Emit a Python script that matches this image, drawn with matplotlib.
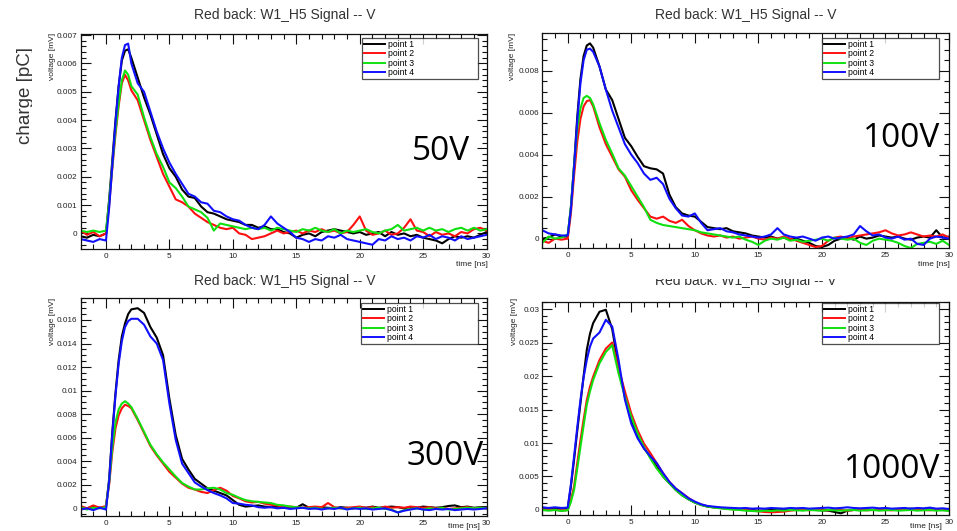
import numpy as np
import matplotlib
matplotlib.use("Agg")
import matplotlib.pyplot as plt
from matplotlib.ticker import MultipleLocator, FuncFormatter
from matplotlib.transforms import Bbox

W, H = 957, 531
SCALE = 1e-3  # values below are in units of 1e-3

# time axis [ns]
T = [-2, -1.5, -1, -0.5, 0, 0.25, 0.5, 0.75, 1, 1.25, 1.5, 1.75, 2,
     2.5, 3, 3.5, 4, 4.5, 5, 5.5, 6, 6.5, 7, 7.5, 8, 8.5, 9, 9.5, 10,
     10.5, 11, 11.5, 12, 12.5, 13, 13.5, 14, 14.5, 15, 15.5, 16, 16.5,
     17, 17.5, 18, 18.5, 19, 19.5, 20, 20.5, 21, 21.5, 22, 22.5, 23,
     23.5, 24, 24.5, 25, 25.5, 26, 26.5, 27, 27.5, 28, 28.5, 29, 29.5, 30]

LABELS = ["point 1", "point 2", "point 3", "point 4"]
COLORS = ["#000000", "#ff1010", "#10e010", "#1010ff"]
TITLE = "Red back: W1_H5 Signal -- V"
VOLTAGES = ["50V", "100V", "300V", "1000V"]

# ---- 50 V ----
v50_p1 = [-0.1, -0.15, -0.05, -0.1, 0.0, 1.2, 2.6, 4.0, 5.2, 6.1, 6.45, 6.5, 6.2,
          5.5, 4.8, 4.2, 3.5, 2.8, 2.3, 2.0, 1.55, 1.3, 1.25, 0.95, 0.75, 0.7, 0.6, 0.5, 0.45,
          0.4, 0.3, 0.3, 0.2, 0.25, 0.15, 0.15, 0.05, 0.0, -0.15, -0.05, 0.0, -0.1,
          0.05, 0.1, 0.15, 0.1, 0.05, 0.0, 0.05, -0.05, 0.0, 0.05, -0.1, 0.05, -0.05,
          0.0, -0.1, -0.05, -0.15, -0.2, -0.25, -0.35, -0.2, -0.1, -0.15, -0.1, -0.15, -0.05, 0.05]
v50_p2 = [0.1, -0.05, 0.05, -0.1, 0.0, 1.0, 2.3, 3.5, 4.5, 5.3, 5.6, 5.4, 5.05,
          4.7, 4.0, 3.3, 2.7, 2.1, 1.65, 1.2, 1.1, 0.95, 0.7, 0.55, 0.4, 0.3, 0.2, 0.15, 0.2,
          0.0, -0.05, -0.2, -0.15, -0.1, 0.0, 0.1, 0.0, 0.05, 0.1, 0.0, 0.1, 0.05,
          0.15, 0.05, 0.1, 0.0, 0.05, 0.3, 0.6, 0.1, -0.05, 0.0, 0.1, -0.05, 0.0,
          0.2, 0.5, 0.1, 0.05, -0.1, 0.05, -0.05, 0.0, -0.1, 0.05, 0.0, 0.15, 0.2, 0.1]
v50_p3 = [0.1, 0.05, 0.1, 0.05, 0.1, 1.1, 2.4, 3.6, 4.6, 5.4, 5.75, 5.6, 5.2,
          4.9, 4.1, 3.4, 2.8, 2.35, 1.8, 1.6, 1.3, 0.95, 0.85, 0.75, 0.55, 0.1, 0.35, 0.3, 0.25,
          0.2, 0.15, 0.2, 0.15, 0.2, 0.1, 0.2, 0.15, 0.1, 0.05, 0.15, 0.1, 0.2,
          0.1, 0.05, 0.15, 0.0, 0.1, 0.05, 0.1, 0.15, 0.05, 0.0, 0.1, 0.15, 0.3,
          0.1, 0.15, 0.2, 0.1, 0.2, 0.1, 0.15, 0.05, 0.15, 0.2, 0.1, 0.2, 0.1, 0.15]
v50_p4 = [-0.2, -0.25, -0.3, -0.2, -0.25, 0.9, 2.4, 3.9, 5.2, 6.2, 6.65, 6.7, 6.0,
          5.3, 5.0, 4.3, 3.6, 3.0, 2.5, 2.1, 1.75, 1.4, 1.3, 1.1, 1.05, 0.8, 0.75, 0.6, 0.5,
          0.45, 0.3, 0.2, 0.15, 0.3, 0.6, 0.35, 0.2, 0.05, -0.15, -0.2, -0.3, -0.2,
          -0.25, -0.1, -0.15, -0.05, -0.2, -0.25, -0.3, -0.35, -0.4, -0.2, -0.25, -0.1, -0.2,
          -0.15, -0.25, -0.1, -0.15, -0.05, -0.2, -0.1, -0.15, -0.25, -0.1, -0.2, -0.15, -0.1, -0.05]

# ---- 100 V ----
v100_p1 = [0.0, 0.05, 0.2, 0.1, 0.1, 1.5, 3.5, 5.8, 7.6, 8.7, 9.2, 9.3, 9.1,
           8.2, 7.1, 6.6, 5.7, 4.8, 4.4, 3.9, 3.45, 3.35, 3.3, 3.1, 2.1, 1.5, 1.2, 1.1, 1.05,
           0.8, 0.55, 0.5, 0.45, 0.5, 0.35, 0.3, 0.25, 0.15, 0.1, 0.05, 0.1, 0.0,
           0.05, -0.05, 0.0, -0.1, -0.2, -0.35, -0.4, -0.3, -0.1, 0.0, 0.05, -0.05, 0.1,
           0.0, 0.05, 0.15, 0.1, 0.05, 0.1, 0.0, -0.05, 0.05, 0.1, 0.05, 0.4, 0.05, 0.1]
v100_p2 = [-0.1, -0.2, 0.0, -0.05, 0.0, 1.2, 3.0, 4.6, 5.7, 6.3, 6.55, 6.6, 6.3,
           5.3, 4.5, 3.9, 3.3, 2.95, 2.3, 1.85, 1.45, 1.05, 0.95, 1.05, 0.85, 0.75, 0.9, 0.6, 0.4,
           0.25, 0.15, 0.1, 0.15, 0.05, 0.1, 0.0, 0.05, 0.1, 0.0, -0.05, 0.05, 0.0,
           0.1, 0.0, -0.1, -0.2, -0.3, -0.4, -0.35, -0.1, 0.05, 0.1, 0.0, 0.1, 0.15,
           0.2, 0.25, 0.3, 0.4, 0.25, 0.15, 0.2, 0.3, 0.2, 0.1, 0.15, 0.1, 0.2, 0.05]
v100_p3 = [-0.2, 0.1, 0.0, 0.05, 0.2, 1.5, 3.5, 5.2, 6.2, 6.7, 6.8, 6.7, 6.4,
           5.5, 4.7, 4.05, 3.35, 3.0, 2.5, 2.0, 1.5, 0.9, 0.75, 0.65, 0.6, 0.55, 0.5, 0.45, 0.4,
           0.3, 0.25, 0.2, 0.15, 0.1, 0.05, 0.1, -0.05, -0.15, -0.3, -0.1, 0.0, -0.05,
           0.05, -0.1, -0.05, -0.15, -0.1, -0.05, 0.0, -0.1, 0.05, 0.0, -0.05, 0.0, -0.2,
           -0.3, -0.1, 0.0, -0.05, -0.1, -0.2, -0.35, -0.45, -0.25, -0.2, -0.15, -0.25, -0.1, -0.3]
v100_p4 = [0.4, 0.25, 0.2, 0.15, 0.15, 1.4, 3.4, 5.6, 7.4, 8.5, 9.0, 9.05, 8.9,
           8.2, 7.1, 6.1, 5.3, 4.5, 4.0, 3.6, 3.1, 2.8, 2.9, 2.6, 1.9, 1.45, 1.1, 1.05, 1.2,
           0.75, 0.4, 0.45, 0.5, 0.35, 0.3, 0.2, 0.15, 0.1, 0.05, 0.1, 0.2, 0.5,
           0.2, 0.1, 0.05, 0.1, 0.0, -0.1, 0.05, 0.1, 0.0, 0.05, 0.1, 0.2, 0.6,
           0.35, 0.15, 0.2, 0.05, 0.0, 0.1, -0.05, 0.0, -0.25, -0.3, 0.0, 0.1, 0.05, 0.0]

# ---- 300 V ----
v300_p1 = [0.1, 0.0, 0.15, 0.05, 0.1, 2.5, 6.5, 9.8, 12.6, 14.6, 15.7, 16.5, 16.9,
           17.0, 16.6, 15.4, 14.5, 13.0, 9.3, 6.2, 4.2, 3.3, 2.5, 2.1, 1.7, 1.5, 1.3, 1.1, 0.7,
           0.3, 0.15, 0.2, 0.25, 0.15, 0.1, 0.15, 0.05, 0.1, 0.05, 0.35, 0.05, 0.0,
           0.1, 0.05, 0.0, 0.1, 0.05, 0.0, 0.1, 0.05, 0.15, 0.05, 0.1, 0.15, 0.1,
           0.0, 0.1, 0.05, 0.15, 0.1, 0.05, 0.1, 0.2, 0.25, 0.1, 0.15, 0.05, 0.1, 0.1]
v300_p2 = [0.2, 0.0, 0.25, 0.05, 0.2, 2.0, 4.8, 6.8, 7.9, 8.5, 8.8, 8.7, 8.5,
           7.5, 6.4, 5.3, 4.5, 3.8, 3.1, 2.6, 2.1, 1.75, 1.6, 1.4, 1.3, 1.55, 1.75, 1.5, 1.05,
           0.85, 0.6, 0.5, 0.55, 0.4, 0.3, 0.25, 0.1, 0.15, 0.1, 0.05, 0.1, 0.15,
           0.1, 0.45, 0.1, 0.0, 0.05, 0.1, 0.15, 0.05, 0.1, 0.0, 0.15, 0.05, 0.1,
           0.05, 0.15, 0.1, 0.05, 0.1, 0.0, 0.05, -0.05, 0.0, 0.05, 0.1, 0.0, 0.05, 0.0]
v300_p3 = [0.1, -0.1, 0.05, 0.0, 0.1, 2.2, 5.2, 7.3, 8.4, 8.9, 9.1, 8.9, 8.6,
           7.6, 6.5, 5.4, 4.6, 3.9, 3.3, 2.7, 2.15, 1.85, 1.6, 1.6, 1.7, 1.75, 1.6, 1.3, 1.15,
           0.9, 0.7, 0.6, 0.55, 0.5, 0.45, 0.3, 0.25, 0.15, 0.1, 0.05, 0.0, 0.05,
           -0.05, 0.0, 0.05, 0.0, -0.05, 0.0, 0.05, -0.05, 0.0, 0.05, -0.05, -0.1, -0.35,
           -0.15, -0.05, 0.0, -0.1, 0.0, -0.05, 0.05, -0.1, -0.05, 0.0, 0.05, 0.0, 0.05, 0.0]
v300_p4 = [-0.1, 0.0, -0.15, 0.05, -0.1, 2.3, 6.3, 9.6, 12.3, 14.2, 15.4, 15.9, 16.1,
           16.1, 15.6, 14.6, 14.0, 12.6, 8.9, 5.8, 3.8, 3.0, 2.2, 1.85, 1.55, 1.3, 1.1, 0.85, 0.45,
           0.4, 0.3, 0.25, 0.1, 0.05, 0.1, 0.0, 0.05, -0.05, 0.0, 0.05, -0.05, 0.0,
           -0.1, 0.0, -0.05, 0.05, -0.1, 0.0, -0.05, 0.0, -0.1, -0.05, 0.0, -0.15, -0.35,
           -0.2, -0.1, 0.0, -0.1, -0.15, -0.05, -0.1, -0.05, -0.15, -0.1, -0.05, -0.1, -0.05, 0.0]

# ---- 1000 V ----
v1000_p1 = [0.3, 0.2, 0.3, 0.2, 0.3, 3.5, 7.5, 11.8, 15.9, 20.0, 23.9, 26.3, 27.9,
            29.6, 29.9, 27.0, 21.4, 16.9, 13.4, 10.9, 9.2, 8.0, 6.5, 5.0, 4.0, 3.0, 2.2, 1.6, 1.1,
            0.75, 0.5, 0.4, 0.3, 0.25, 0.2, 0.15, 0.1, 0.0, -0.1, -0.05, 0.0, 0.1,
            0.05, 0.0, 0.1, 0.0, 0.05, 0.0, -0.05, -0.1, -0.3, -0.5, -0.1, 0.0, 0.05,
            0.1, 0.0, 0.05, 0.1, 0.0, 0.1, 0.05, 0.2, 0.1, 0.05, 0.1, 0.0, 0.05, 0.1]
v1000_p2 = [0.1, 0.0, 0.05, -0.1, 0.0, 1.5, 3.5, 7.0, 10.4, 13.5, 16.4, 18.4, 19.9,
            22.4, 24.1, 25.0, 21.2, 17.7, 14.4, 11.9, 9.9, 8.5, 7.0, 5.5, 4.2, 3.2, 2.5, 1.8, 1.2,
            0.8, 0.55, 0.4, 0.3, 0.2, 0.1, 0.05, 0.0, -0.1, -0.2, -0.3, -0.35, -0.3,
            -0.25, -0.1, 0.0, 0.05, -0.05, 0.1, 0.0, -0.05, 0.05, 0.0, -0.1, 0.0, 0.05,
            -0.05, 0.0, 0.1, 0.0, -0.05, 0.05, 0.0, 0.1, 0.15, 0.0, -0.05, 0.05, 0.0, -0.05]
v1000_p3 = [0.0, -0.1, 0.0, -0.15, -0.05, 1.2, 3.0, 6.2, 9.4, 12.6, 15.7, 17.7, 19.4,
            21.9, 23.6, 24.6, 20.4, 16.9, 13.9, 11.4, 9.4, 7.7, 6.2, 5.0, 4.0, 3.0, 2.2, 1.6, 1.1,
            0.75, 0.5, 0.35, 0.25, 0.15, 0.05, 0.0, -0.1, -0.15, -0.2, -0.1, -0.15, -0.05,
            -0.1, 0.0, -0.05, -0.1, 0.0, -0.05, -0.1, 0.0, -0.05, -0.1, -0.05, 0.0, -0.1,
            -0.05, 0.0, -0.1, -0.05, 0.0, -0.1, -0.05, 0.0, -0.1, -0.05, 0.0, -0.1, -0.05, -0.15]
v1000_p4 = [0.4, 0.3, 0.4, 0.3, 0.35, 3.8, 8.0, 12.3, 16.4, 19.8, 22.4, 24.4, 25.6,
            26.5, 28.4, 27.4, 22.4, 16.5, 12.9, 10.7, 9.2, 8.0, 7.0, 5.5, 4.2, 3.2, 2.5, 1.75, 1.25,
            0.85, 0.6, 0.5, 0.4, 0.35, 0.3, 0.25, 0.3, 0.2, 0.25, 0.2, 0.3, 0.25,
            0.2, 0.3, 0.25, 0.3, 0.2, 0.25, 0.3, 0.35, 0.25, 0.3, 0.4, 0.3, 0.25,
            0.3, 0.35, 0.25, 0.3, 0.2, 0.25, 0.3, 0.2, 0.3, 0.25, 0.35, 0.2, 0.25, 0.15]

SERIES = [
    [v50_p1, v50_p2, v50_p3, v50_p4],
    [v100_p1, v100_p2, v100_p3, v100_p4],
    [v300_p1, v300_p2, v300_p3, v300_p4],
    [v1000_p1, v1000_p2, v1000_p3, v1000_p4],
]

# ---------------- layout (pixel boxes: left, right, top, bottom) ----------------
PANELS = [
    dict(box=(80.6, 486.6, 34.0, 249.0), ylim=(-0.00055, 0.00704), ymaj=0.001, ymin=0.0002,
         leg=(362, 478, 38), vlab=(52, 33), title=(285, 15), tlab=(488, 261.5, "top"),
         big=(470, 160)),
    dict(box=(542.3, 949.0, 33.3, 248.3), ylim=(-0.00046, 0.00978), ymaj=0.002, ymin=0.0005,
         leg=(822, 939, 38), vlab=(512, 33), title=(746, 15), tlab=(950, 261.5, "top"),
         big=(940, 147)),
    dict(box=(80.6, 486.6, 298.3, 516.0), ylim=(-0.00065, 0.01784), ymaj=0.002, ymin=0.0005,
         leg=(361, 478, 303), vlab=(52, 298), title=(285, 281), tlab=(480, 530.0, "bottom"),
         big=(484, 465)),
    dict(box=(542.3, 949.0, 301.7, 515.0), ylim=(-0.00075, 0.0311), ymaj=0.005, ymin=0.001,
         leg=(822, 939, 303), vlab=(515, 298), title=(746, 281), tlab=(942, 530.0, "bottom"),
         big=(940, 478)),
]

ROOTFONT = "Liberation Sans"
fig = plt.figure(figsize=(W / 100, H / 100), dpi=100)
fig.patch.set_facecolor("white")


def fx(x):
    return x / W


def fy(y):
    return 1 - y / H


def yfmt(v, pos):
    v = round(v, 6)
    if abs(v) < 1e-12:
        return "0"
    return format(v, "g")


for k, (p, series) in enumerate(zip(PANELS, SERIES)):
    l, r, t, b = p["box"]
    ax = fig.add_axes([fx(l), fy(b), (r - l) / W, (b - t) / H])
    handles = []
    for vals, c, lab in zip(series, COLORS, LABELS):
        h, = ax.plot(T, np.array(vals) * SCALE, color=c, lw=1.5, label=lab,
                     solid_joinstyle="round")
        handles.append(h)
    ax.set_xlim(-2, 30)
    ax.set_ylim(*p["ylim"])
    ax.xaxis.set_major_locator(MultipleLocator(5))
    ax.xaxis.set_minor_locator(MultipleLocator(1))
    ax.yaxis.set_major_locator(MultipleLocator(p["ymaj"]))
    ax.yaxis.set_minor_locator(MultipleLocator(p["ymin"]))
    ax.yaxis.set_major_formatter(FuncFormatter(yfmt))
    ax.xaxis.set_major_formatter(FuncFormatter(lambda v, pos: "%d" % round(v)))
    ax.tick_params(axis="both", which="both", direction="in", top=True, right=True,
                   width=0.8, colors="#111111", labelsize=5.9, labelcolor="#222222")
    ax.tick_params(axis="y", which="major", length=7.5, pad=2.2)
    ax.tick_params(axis="y", which="minor", length=3.8)
    ax.tick_params(axis="x", which="major", length=7.0, pad=3.0)
    ax.tick_params(axis="x", which="minor", length=3.6)
    for lab in ax.get_xticklabels() + ax.get_yticklabels():
        lab.set_fontfamily(ROOTFONT)
    for s in ax.spines.values():
        s.set_linewidth(0.9)
        s.set_color("#111111")

    # legend
    lx0, lx1, ly0 = p["leg"]
    leg = ax.legend(handles=handles, loc="upper left",
                    bbox_to_anchor=(fx(lx0), fy(ly0), (lx1 - lx0) / W, 0.0),
                    bbox_transform=fig.transFigure, mode="expand", borderaxespad=0,
                    frameon=True, fancybox=False, shadow=False,
                    prop={"family": ROOTFONT, "size": 6.2}, handlelength=2.5,
                    handletextpad=0.35, labelspacing=0.06, borderpad=0.22)
    leg.get_frame().set_edgecolor("#222222")
    leg.get_frame().set_linewidth(0.9)
    for line in leg.get_lines():
        line.set_linewidth(1.4)

    # ROOT-style texts
    tt = fig.text(fx(p["title"][0]), fy(p["title"][1]), TITLE, ha="center", va="center",
                  fontsize=10, family=ROOTFONT, color="#333333")
    if k == 3:
        tt.set_clip_box(Bbox([[0, 0], [W, H - 278.5]]))
        tt.set_clip_on(True)
    fig.text(fx(p["vlab"][0]), fy(p["vlab"][1]), "voltage [mV]", rotation=90,
             ha="center", va="top", fontsize=6, family=ROOTFONT, color="#222222")
    tx, ty, tva = p["tlab"]
    fig.text(fx(tx), fy(ty), "time [ns]", ha="right", va=tva,
             fontsize=6, family=ROOTFONT, color="#222222")
    # voltage annotation
    fig.text(fx(p["big"][0]), fy(p["big"][1]), VOLTAGES[k], ha="right", va="baseline",
             fontsize=24, family="Open Sans", color="#000000")

ch = fig.text(fx(26), fy(96), "charge [pC]", rotation=90, ha="center", va="center",
              fontsize=13.5, family=ROOTFONT, color="#333333")
ch.set_clip_box(Bbox([[0, 0], [32.0, H]]))
ch.set_clip_on(True)

fig.savefig("out.png", dpi=100, facecolor="white")
